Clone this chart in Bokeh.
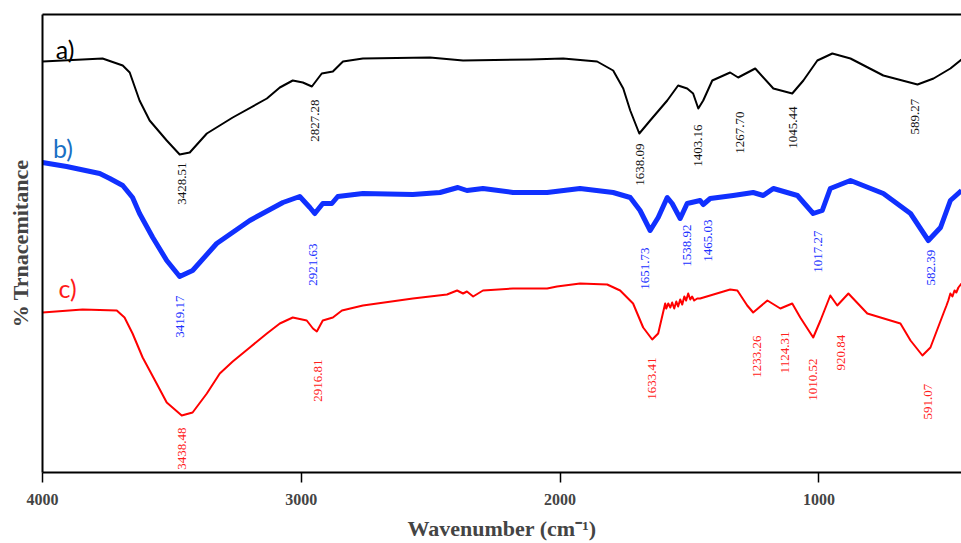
import math
from bokeh.plotting import figure
from bokeh.models import Range1d, FixedTicker, ColumnDataSource, LinearAxis
from bokeh.core.properties import value
from bokeh.embed import file_html
from bokeh.resources import INLINE

# ---- spectrum a) (black) ----
wn_a = [4000, 3768, 3690, 3663, 3625, 3586, 3520, 3470, 3431, 3365, 3265, 3133, 3083, 3033,
        2994, 2959, 2921, 2878, 2839, 2762, 2503, 2375, 2116, 1988, 1857, 1795, 1756, 1729,
        1694, 1652, 1586, 1544, 1509, 1486, 1466, 1447, 1412, 1343, 1312, 1246, 1176, 1103,
        1060, 1006, 948, 878, 751, 619, 557, 492, 449]
tr_a = [411, 414, 407, 400, 372, 352, 332, 318, 320, 339, 355, 374, 385, 392,
        390, 386, 399, 401, 411, 414, 415, 412, 413, 414, 411, 402, 384, 362,
        339, 352, 372, 387, 384, 379, 364, 372, 392, 400, 395, 404, 384, 379,
        392, 412, 419, 414, 397, 388, 394, 404, 413]

# ---- spectrum b) (blue) ----
wn_b = [4000, 3907, 3779, 3740, 3690, 3652, 3625, 3574, 3520, 3470, 3420, 3327, 3199, 3071,
        3006, 2967, 2948, 2917, 2882, 2859, 2762, 2569, 2464, 2395, 2360, 2298, 2182, 2050,
        1923, 1795, 1729, 1691, 1652, 1621, 1586, 1567, 1536, 1509, 1459, 1447, 1420, 1331,
        1254, 1215, 1176, 1083, 1022, 987, 956, 878, 751, 646, 577, 530, 492, 449]
tr_b = [310, 306, 299, 294, 287, 275, 259, 235, 212, 196, 202, 229, 252, 270,
        276, 265, 259, 269, 269, 276, 279, 278, 280, 285, 282, 284, 280, 280,
        284, 280, 275, 262, 242, 255, 275, 269, 254, 269, 272, 268, 274, 277,
        280, 277, 284, 277, 259, 262, 284, 292, 279, 259, 232, 245, 272, 282]

# ---- spectrum c) (red) ----
wn_c = [4000, 3845, 3713, 3683, 3652, 3613, 3559, 3520, 3462, 3420, 3365, 3315, 3265, 3199,
        3133, 3083, 3033, 2979, 2955, 2940, 2917, 2878, 2843, 2762, 2569, 2437, 2398, 2375,
        2360, 2336, 2298, 2182, 2050, 2012, 1923, 1818, 1768, 1718, 1679, 1644, 1621,
        1594, 1590, 1582, 1574, 1567, 1559, 1551, 1544, 1536, 1528, 1520, 1513, 1505, 1497,
        1490, 1482, 1470, 1459, 1343, 1315, 1277, 1254, 1199, 1149, 1103, 1072, 1022, 994,
        956, 929, 886, 813, 685, 646, 600, 569, 519, 507, 500, 492, 484, 476, 469, 461, 449]
tr_c = [160, 163, 162, 155, 139, 115, 89, 70, 57, 60, 79, 99, 111, 125,
        139, 149, 155, 152, 144, 141, 152, 155, 162, 167, 174, 178, 182, 179,
        181, 176, 182, 184, 184, 186, 189, 188, 182, 169, 145, 133, 139,
        169, 164, 169, 165, 170, 164, 171, 166, 173, 168, 176, 172, 179, 173,
        176, 172, 174, 174, 183, 182, 167, 160, 172, 164, 169, 155, 135, 152,
        177, 167, 179, 159, 149, 132, 117, 125, 159, 167, 172, 179, 176, 182, 180, 185, 189]

# ---- peak labels ----
pk_a_text = ["3428.51", "2827.28", "1638.09", "1403.16", "1267.70", "1045.44", "589.27"]
pk_a_x = [3462, 2948, 1691, 1466, 1304, 1099, 627]
pk_a_y = [289, 352, 308, 327, 340, 345, 356]

pk_b_text = ["3419.17", "2921.63", "1651.73", "1538.92", "1465.03", "1017.27", "582.39"]
pk_b_x = [3470, 2955, 1671, 1509, 1428, 1002, 565]
pk_b_y = [156, 208, 204, 227, 232, 221, 205]

pk_c_text = ["3438.48", "2916.81", "1633.41", "1233.26", "1124.31", "1010.52", "920.84", "591.07"]
pk_c_x = [3462, 2936, 1644, 1238, 1130, 1022, 913, 577]
pk_c_y = [24, 92, 94, 116, 120, 93, 120, 71]

series_tags = ["a)", "b)", "c)"]
tag_x = [3913, 3921, 3903]
tag_y = [424, 325, 185]
tag_colors = ["#000000", "#1a70c4", "#ff1a1a"]

x_ticks = [4000, 3000, 2000, 1000]

p = figure(width=961, height=543, output_backend="svg", toolbar_location=None,
           x_range=Range1d(4000, 449), y_range=Range1d(0, 458),
           min_border_left=42, min_border_right=0, min_border_top=14, min_border_bottom=71)

p.background_fill_color = "white"
p.border_fill_color = "white"
p.xgrid.visible = False
p.ygrid.visible = False
p.outline_line_color = None

serif = "Liberation Serif"

xa = p.xaxis[0]
xa.ticker = FixedTicker(ticks=x_ticks)
xa.axis_label = "Wavenumber (cm⁻¹)"
xa.axis_label_text_font = serif
xa.axis_label_text_font_style = "bold"
xa.axis_label_text_font_size = "22px"
xa.axis_label_standoff = 8
xa.major_label_text_font = serif
xa.major_label_text_font_style = "bold"
xa.major_label_text_font_size = "16px"
xa.major_label_standoff = 11
xa.major_tick_out = 10
xa.major_tick_in = 0
xa.major_tick_line_width = 1.5
xa.minor_tick_line_color = None
xa.axis_line_width = 2

ya = p.yaxis[0]
ya.ticker = FixedTicker(ticks=[])
ya.axis_label = "% Trnacemitance"
ya.axis_label_text_font = serif
ya.axis_label_text_font_style = "bold"
ya.axis_label_text_font_size = "22px"
ya.axis_label_standoff = 10
ya.major_tick_out = 0
ya.major_tick_in = 0
ya.minor_tick_line_color = None
ya.axis_line_width = 2

top_axis = LinearAxis(ticker=FixedTicker(ticks=[]), major_tick_out=0, major_tick_in=0,
                      minor_tick_line_color=None, axis_line_width=2)
p.add_layout(top_axis, "above")

p.line(wn_a, tr_a, line_color="#000000", line_width=2, line_join="round")
p.line(wn_b, tr_b, line_color="#1030ff", line_width=5, line_join="round")
p.line(wn_c, tr_c, line_color="#ff0000", line_width=2, line_join="round")

for xs, ys, txt, col in [(pk_a_x, pk_a_y, pk_a_text, "#111111"),
                         (pk_b_x, pk_b_y, pk_b_text, "#2030ff"),
                         (pk_c_x, pk_c_y, pk_c_text, "#ff2020")]:
    src = ColumnDataSource(dict(x=xs, y=ys, t=txt))
    p.text(x="x", y="y", text="t", source=src, angle=math.pi / 2,
           text_align="center", text_baseline="middle",
           text_font=value(serif), text_font_size="13px", text_color=col)

tsrc = ColumnDataSource(dict(x=tag_x, y=tag_y, t=series_tags, c=tag_colors))
p.text(x="x", y="y", text="t", source=tsrc, text_color="c",
       text_align="center", text_baseline="middle",
       text_font=value("Lato"), text_font_size="25px")

open("out.html", "w").write(file_html(p, INLINE))
